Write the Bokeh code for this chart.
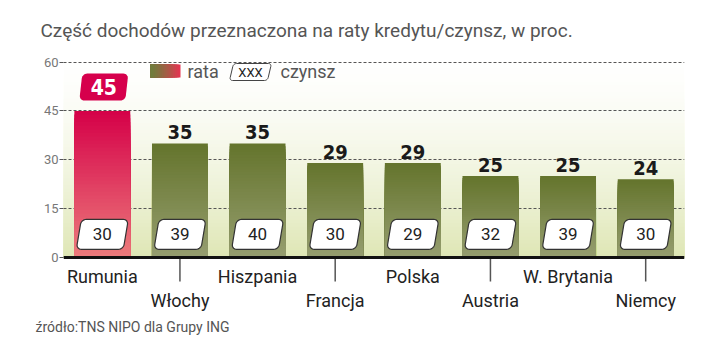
import numpy as np
from bokeh.plotting import figure
from bokeh.models import Range1d, FixedTicker, Span, Title, ColumnDataSource
from bokeh.core.properties import value
from bokeh.embed import file_html
from bokeh.resources import INLINE

# ---- data ----
categories = ["Rumunia", "Włochy", "Hiszpania", "Francja", "Polska", "Austria", "W. Brytania", "Niemcy"]
rata = [45, 35, 35, 29, 29, 25, 25, 24]
czynsz = [30, 39, 40, 30, 29, 32, 39, 30]
y_ticks = [0, 15, 30, 45, 60]
title_text = "Część dochodów przeznaczona na raty kredytu/czynsz, w proc."
source_text = "źródło:TNS NIPO dla Grupy ING"
legend_labels = ["rata", "czynsz", "XXX"]

# ---- geometry ----
W, H = 720, 363
BL, BR, BT, BB = 63, 36, 50, 50
FW, FH = W - BL - BR, H - BT - BB
N = len(categories)
PXX = FW / N
PXY = 3.258
YMAX = 207 / PXY
YMIN = YMAX - FH / PXY

p = figure(width=W, height=H, x_range=Range1d(0, N), y_range=Range1d(YMIN, YMAX),
           output_backend="svg", toolbar_location=None, x_axis_location=None,
           min_border_left=BL, min_border_right=BR, min_border_top=BT, min_border_bottom=BB,
           title=title_text)
p.outline_line_color = None
p.background_fill_color = "white"
p.border_fill_color = "white"

p.title.align = "left"
p.title.offset = -23
p.title.standoff = 17
p.title.text_font = "Roboto"
p.title.text_font_size = "19px"
p.title.text_font_style = "normal"
p.title.text_color = "#555555"

src_title = Title(text=source_text, align="left", offset=-28, standoff=6, text_font="Roboto",
                  text_font_size="14px", text_font_style="normal", text_color="#555555")
p.add_layout(src_title, "below")

# y axis
yax = p.yaxis[0]
yax.ticker = FixedTicker(ticks=y_ticks)
yax.axis_line_color = None
yax.major_tick_line_color = "#555555"
yax.major_tick_out = 4
yax.major_tick_in = 0
yax.minor_tick_line_color = None
yax.major_label_standoff = 1
yax.major_label_text_font = "Roboto"
yax.major_label_text_font_size = "13px"
yax.major_label_text_color = "#777777"

p.xgrid.visible = False
p.ygrid.ticker = FixedTicker(ticks=y_ticks[1:])
p.ygrid.grid_line_color = "#555555"
p.ygrid.grid_line_dash = "3 2"
p.ygrid.grid_line_width = 1

def mix(c1, c2, f):
    return "#%02x%02x%02x" % tuple(int(round(a + (b - a) * f)) for a, b in zip(c1, c2))

# background gradient (stacked from the bottom, tallest first -> no seams)
NB = 60
edges = np.linspace(0, YMAX, NB + 1)
bg = dict(left=[], right=[], bottom=[], top=[], color=[])
for k in range(NB - 1, -1, -1):
    f = 1 - (edges[k] + edges[k + 1]) / 2 / YMAX
    bg["left"].append(0); bg["right"].append(N)
    bg["bottom"].append(0); bg["top"].append(edges[k + 1])
    bg["color"].append(mix((255, 255, 255), (222, 230, 180), f ** 1.6))
r_bg = p.quad(left="left", right="right", bottom="bottom", top="top", color="color",
              source=ColumnDataSource(bg), line_color=None)
r_bg.level = "image"

# bars with vertical gradient
hi = int(np.argmax(rata))
BW = 0.72
NS = 40
bars = dict(left=[], right=[], bottom=[], top=[], color=[])
for i, v in enumerate(rata):
    top_c, bot_c = ((213, 0, 72), (236, 124, 124)) if i == hi else ((100, 116, 44), (150, 158, 112))
    e = np.linspace(0, v, NS + 1)
    for k in range(NS - 1, -1, -1):
        f = 1 - (k + 0.5) / NS
        bars["left"].append(i + 0.5 - BW / 2); bars["right"].append(i + 0.5 + BW / 2)
        bars["bottom"].append(0); bars["top"].append(e[k + 1])
        bars["color"].append(mix(top_c, bot_c, f))
p.quad(left="left", right="right", bottom="bottom", top="top", color="color",
       source=ColumnDataSource(bars), line_color=None)

def para(cx, cy, w, h, r, skew, n=8):
    xs, ys = [], []
    cs = [(w / 2 - r, h / 2 - r, 0), (-w / 2 + r, h / 2 - r, 90),
          (-w / 2 + r, -h / 2 + r, 180), (w / 2 - r, -h / 2 + r, 270)]
    for ccx, ccy, a0 in cs:
        for a in np.linspace(a0, a0 + 90, n):
            px = ccx + r * np.cos(np.radians(a))
            py = ccy + r * np.sin(np.radians(a))
            px += skew * py / h
            xs.append(cx + px / PXX)
            ys.append(cy + py / PXY)
    return xs, ys

# value labels on bars (non-highlighted)
xs_c = [i + 0.5 for i in range(N)]
val_x = [xs_c[i] for i in range(N) if i != hi]
val_y = [rata[i] + 11.5 / PXY for i in range(N) if i != hi]
val_t = [str(rata[i]) for i in range(N) if i != hi]
p.text(x=val_x, y=val_y, text=val_t, text_font=value("DejaVu Sans Condensed"),
       text_font_style="bold", text_font_size="20px", text_color="#1a1a1a",
       text_align="center", text_baseline="middle")

# highlighted red label
rx, ry = para(xs_c[hi] + 1.5 / PXX, rata[hi] + 7.33, 46, 27, 5, 3)
p.patch(rx, ry, fill_color="#d6004c", line_color=None)
p.text(x=[xs_c[hi] + 1.5 / PXX], y=[rata[hi] + 7.33], text=[str(rata[hi])],
       text_font=value("DejaVu Sans Condensed"), text_font_style="bold",
       text_font_size="21px", text_color="white", text_align="center", text_baseline="middle")

# czynsz boxes
BY = 7.1
bxs, bys = [], []
for i in range(N):
    a, b = para(xs_c[i], BY, 47, 30, 5, 5)
    bxs.append(a); bys.append(b)
p.patches(bxs, bys, fill_color="white", line_color="#333333", line_width=1.2)
p.text(x=xs_c, y=[BY] * N, text=[str(c) for c in czynsz], text_font=value("Roboto"),
       text_font_size="17px", text_color="#222222", text_align="center", text_baseline="middle")

# axis baseline
p.add_layout(Span(location=0, dimension="width", line_color="#111111", line_width=3))

# x ticks (odd categories) and staggered labels
odd = [i for i in range(N) if i % 2 == 1]
p.segment(x0=[xs_c[i] for i in odd], y0=[0] * len(odd), x1=[xs_c[i] for i in odd],
          y1=[-24 / PXY] * len(odd), line_color="#555555", line_width=1.5)
lab_y = [-19 / PXY if i % 2 == 0 else -43 / PXY for i in range(N)]
p.text(x=xs_c, y=lab_y, text=categories, text_font=value("Roboto"), text_font_size="18px",
       text_color="#222222", text_align="center", text_baseline="middle")

# legend
def px2x(px):
    return (px - 63) / PXX
def py2y(py):
    return (257 - py) / PXY
NL = 16
lg = dict(left=[], right=[], bottom=[], top=[], color=[])
ex = np.linspace(px2x(150), px2x(180), NL + 1)
for k in range(NL - 1, -1, -1):
    lg["left"].append(ex[0]); lg["right"].append(ex[k + 1])
    lg["bottom"].append(py2y(77)); lg["top"].append(py2y(64))
    lg["color"].append(mix((110, 126, 60), (232, 50, 82), ((k + 0.5) / NL) ** 1.3))
p.quad(left="left", right="right", bottom="bottom", top="top", color="color",
       source=ColumnDataSource(lg), line_color=None)
p.text(x=[px2x(187)], y=[py2y(71)], text=[legend_labels[0]], text_font=value("Roboto"),
       text_font_size="18px", text_color="#555555", text_align="left", text_baseline="middle")
lx, ly = para(px2x(250), py2y(71.5), 38, 17, 3, 4)
p.patch(lx, ly, fill_color="white", line_color="#444444", line_width=1)
p.text(x=[px2x(250)], y=[py2y(71.5)], text=[legend_labels[2]], text_font=value("Roboto"),
       text_font_size="13px", text_color="#222222", text_align="center", text_baseline="middle")
p.text(x=[px2x(280)], y=[py2y(71)], text=[legend_labels[1]], text_font=value("Roboto"),
       text_font_size="18px", text_color="#555555", text_align="left", text_baseline="middle")

open("out.html", "w").write(file_html(p, INLINE))
